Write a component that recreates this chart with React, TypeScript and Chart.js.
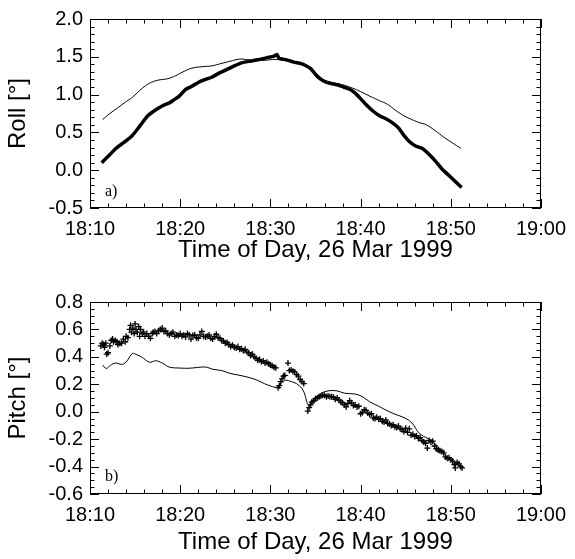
import { useEffect, useRef } from "react";
import { Chart, registerables } from "chart.js";

Chart.register(...registerables);

// ---------- data (time in minutes after 18:00) ----------
const xTickLabels = ["18:10", "18:20", "18:30", "18:40", "18:50", "19:00"];
const xTitle = "Time of Day, 26 Mar 1999";

// Panel a) Roll
const rollTimeMeas = [11.3, 11.9, 12.9, 13.8, 14.7, 15.5, 16.4, 17.3, 18.0, 18.8, 19.3, 19.9, 20.6, 21.3, 22.0, 22.8, 23.5, 24.4, 25.3, 26.0, 26.8, 27.6, 28.6, 29.7, 30.4, 30.75, 30.95, 31.8, 32.6, 33.4, 33.9, 34.5, 35.2, 35.9, 36.6, 37.4, 38.1, 38.8, 39.4, 39.9, 40.6, 41.4, 42.1, 42.8, 43.5, 44.2, 44.8, 45.4, 46.1, 46.8, 47.5, 48.3, 49.0, 49.8, 50.5, 51.2];
const rollMeas = [0.10, 0.17, 0.29, 0.37, 0.46, 0.58, 0.72, 0.80, 0.85, 0.89, 0.93, 0.98, 1.07, 1.11, 1.16, 1.20, 1.23, 1.29, 1.34, 1.38, 1.42, 1.44, 1.46, 1.49, 1.51, 1.53, 1.48, 1.46, 1.43, 1.41, 1.385, 1.34, 1.24, 1.18, 1.15, 1.13, 1.10, 1.07, 1.02, 0.96, 0.87, 0.78, 0.72, 0.68, 0.63, 0.56, 0.46, 0.38, 0.32, 0.29, 0.22, 0.12, 0.02, -0.07, -0.15, -0.23];
const rollTimeModel = [11.4, 12.2, 12.9, 13.8, 14.7, 15.8, 16.6, 17.5, 18.6, 19.5, 20.3, 21.3, 22.5, 23.5, 24.5, 25.5, 26.6, 27.5, 28.3, 29.5, 30.5, 31.5, 32.5, 33.5, 34.3, 35.2, 36.0, 37.0, 38.0, 38.8, 40.0, 41.0, 42.1, 43.0, 43.9, 44.8, 45.5, 46.5, 47.3, 48.3, 49.2, 50.2, 51.1];
const rollModel = [0.67, 0.75, 0.81, 0.89, 0.965, 1.085, 1.15, 1.19, 1.21, 1.25, 1.30, 1.35, 1.37, 1.38, 1.41, 1.44, 1.47, 1.46, 1.45, 1.455, 1.465, 1.45, 1.43, 1.41, 1.37, 1.27, 1.19, 1.155, 1.13, 1.10, 1.04, 0.98, 0.92, 0.87, 0.79, 0.72, 0.68, 0.63, 0.60, 0.52, 0.44, 0.36, 0.29];

// Panel b) Pitch
const pitchTimeModel = [11.4, 11.8, 12.3, 12.8, 13.6, 14.1, 14.7, 15.2, 15.7, 16.6, 17.3, 18.0, 18.8, 20.0, 21.0, 22.8, 23.6, 24.6, 25.5, 26.4, 27.3, 28.3, 29.7, 30.8, 31.3, 31.7, 32.3, 32.9, 33.5, 33.8, 34.1, 34.4, 35.0, 35.6, 36.5, 37.4, 38.2, 39.4, 40.2, 41.0, 42.0, 42.8, 43.7, 44.6, 45.3, 45.8, 46.4, 47.0, 47.6, 48.3, 48.9, 49.4, 50.0, 50.5, 51.0];
const pitchModel = [0.34, 0.315, 0.34, 0.355, 0.345, 0.37, 0.425, 0.415, 0.40, 0.36, 0.372, 0.355, 0.325, 0.318, 0.317, 0.326, 0.31, 0.30, 0.28, 0.268, 0.255, 0.236, 0.195, 0.178, 0.215, 0.23, 0.22, 0.205, 0.17, 0.13, 0.06, 0.045, 0.10, 0.135, 0.153, 0.152, 0.135, 0.129, 0.11, 0.073, 0.04, 0.012, -0.015, -0.037, -0.06, -0.09, -0.15, -0.18, -0.20, -0.235, -0.28, -0.316, -0.35, -0.377, -0.396];
const pitchTimeMeas = [
  11.2, 11.35, 11.5, 11.6, 11.75, 11.85, 12.0, 12.2, 12.35, 12.5, 12.6, 12.8, 13.0, 13.1, 13.3, 13.5, 13.7, 13.9, 14.0, 14.2,
  14.4, 14.5, 14.6, 14.75, 14.9, 15.0, 15.1, 15.25, 15.4, 15.5, 15.6, 15.8, 15.95, 16.1,
  16.3, 16.5, 16.7, 16.9, 17.0, 17.2, 17.4, 17.6, 17.8, 18.0, 18.2, 18.4, 18.6, 18.8, 19.0, 19.2, 19.4, 19.6, 19.8, 20.0, 20.2, 20.4, 20.6, 20.8, 21.0, 21.2, 21.4, 21.6, 21.8, 22.0, 22.2, 22.4, 22.6, 22.8, 23.0, 23.2, 23.4, 23.6, 23.8, 24.0, 24.2, 24.4,
  24.6, 24.8, 25.0, 25.2, 25.4, 25.6, 25.8, 26.0, 26.2, 26.4, 26.6, 26.8, 27.0, 27.2, 27.4, 27.6, 27.8, 28.0, 28.2, 28.4, 28.6, 28.8, 29.0, 29.2, 29.4, 29.6, 29.8, 30.0, 30.2, 30.4, 30.6,
  30.85, 31.0, 31.15, 31.3, 31.45, 31.6, 31.95, 32.1, 32.3, 32.5, 32.7, 32.9, 33.1, 33.3, 33.5, 33.7,
  34.15, 34.3, 34.45, 34.6, 34.8, 35.0, 35.2, 35.4, 35.6, 35.8, 36.0, 36.2, 36.4, 36.6, 36.8, 37.0, 37.2, 37.4, 37.6, 37.8,
  38.0, 38.2, 38.4, 38.6, 38.8, 39.0, 39.2, 39.4, 39.6, 39.8, 40.0, 40.2, 40.4, 40.6, 40.8, 41.0, 41.2, 41.4, 41.6, 41.8, 42.0, 42.2, 42.4, 42.6, 42.8, 43.0, 43.2, 43.4, 43.6, 43.8, 44.0, 44.2, 44.4, 44.6, 44.8, 45.0, 45.2, 45.4, 45.6, 45.8, 46.0, 46.2, 46.4, 46.6, 46.8, 47.0, 47.2, 47.4, 47.6, 47.8, 48.0, 48.2, 48.4, 48.6, 48.8, 49.0, 49.2, 49.4, 49.6, 49.8, 50.0, 50.2, 50.4, 50.5, 50.7, 50.9, 51.1, 51.25,
];
const pitchMeas = [
  0.48, 0.50, 0.49, 0.47, 0.50, 0.42, 0.43, 0.48, 0.52, 0.53, 0.51, 0.52, 0.51, 0.49, 0.50, 0.50, 0.53, 0.51, 0.55, 0.54,
  0.60, 0.63, 0.58, 0.61, 0.57, 0.64, 0.60, 0.58, 0.62, 0.55, 0.60, 0.57, 0.58, 0.55,
  0.57, 0.55, 0.535, 0.57, 0.58, 0.585, 0.57, 0.59, 0.60, 0.61, 0.585, 0.59, 0.57, 0.56, 0.57, 0.58, 0.55, 0.56, 0.555, 0.57, 0.55, 0.56, 0.545, 0.57, 0.56, 0.53, 0.555, 0.56, 0.54, 0.535, 0.56, 0.585, 0.55, 0.545, 0.55, 0.56, 0.535, 0.53, 0.55, 0.565, 0.54, 0.535,
  0.52, 0.515, 0.50, 0.505, 0.49, 0.475, 0.485, 0.47, 0.465, 0.475, 0.455, 0.46, 0.445, 0.455, 0.435, 0.43, 0.41, 0.42, 0.40, 0.39, 0.375, 0.38, 0.365, 0.37, 0.355, 0.36, 0.35, 0.34, 0.335, 0.325, 0.32,
  0.175, 0.19, 0.22, 0.24, 0.26, 0.265, 0.355, 0.30, 0.305, 0.295, 0.29, 0.27, 0.26, 0.235, 0.22, 0.205,
  0.005, 0.03, 0.05, 0.07, 0.08, 0.095, 0.10, 0.11, 0.115, 0.12, 0.12, 0.11, 0.115, 0.11, 0.11, 0.105, 0.09, 0.10, 0.085, 0.07,
  0.065, 0.05, 0.035, 0.06, 0.08, 0.065, 0.045, 0.05, 0.035, 0.04, -0.015, -0.005, 0.015, 0.01, -0.01, -0.02, -0.015, -0.045, -0.05, -0.04, -0.055, -0.05, -0.07, -0.075, -0.06, -0.085, -0.09, -0.10, -0.095, -0.11, -0.115, -0.105, -0.125, -0.13, -0.145, -0.12, -0.15, -0.125, -0.17, -0.165, -0.18, -0.175, -0.195, -0.19, -0.21, -0.22, -0.23, -0.265, -0.21, -0.22, -0.215, -0.25, -0.27, -0.28, -0.285, -0.29, -0.30, -0.33, -0.34, -0.335, -0.35, -0.36, -0.385, -0.41, -0.37, -0.38, -0.40, -0.41,
];

const toXY = (xs: number[], ys: number[]) => xs.map((x, i) => ({ x, y: ys[i] }));

const FONT = "'Liberation Sans', Arial, Helvetica, sans-serif";

// Inward ticks on all four sides + frame + panel label
const frameTicks = {
  id: "frameTicks",
  afterDatasetsDraw(chart: any, _args: any, opts: any) {
    const { ctx, chartArea: a, scales } = chart;
    const xs = scales.x;
    const ys = scales.y;
    ctx.save();
    ctx.strokeStyle = "#000";
    ctx.lineWidth = 1;
    ctx.strokeRect(Math.round(a.left) + 0.5, Math.round(a.top) + 0.5, Math.round(a.right - a.left) - 1, Math.round(a.bottom - a.top) - 1);
    const majorLen = 9;
    const minorLen = 4.5;
    ctx.beginPath();
    const nx = Math.round((xs.max - xs.min) / opts.xMinor);
    const xr = Math.round(opts.xMajor / opts.xMinor);
    for (let i = 0; i <= nx; i++) {
      const v = xs.min + i * opts.xMinor;
      const px = Math.round(xs.getPixelForValue(v)) + 0.5;
      const len = i % xr === 0 ? majorLen : minorLen;
      ctx.moveTo(px, a.bottom);
      ctx.lineTo(px, a.bottom - len);
      ctx.moveTo(px, a.top);
      ctx.lineTo(px, a.top + len);
    }
    const ny = Math.round((ys.max - ys.min) / opts.yMinor);
    const yr = Math.round(opts.yMajor / opts.yMinor);
    for (let i = 0; i <= ny; i++) {
      const v = ys.min + i * opts.yMinor;
      const py = Math.round(ys.getPixelForValue(v)) + 0.5;
      const len = i % yr === 0 ? majorLen : minorLen;
      ctx.moveTo(a.left, py);
      ctx.lineTo(a.left + len, py);
      ctx.moveTo(a.right, py);
      ctx.lineTo(a.right - len, py);
    }
    ctx.stroke();
    ctx.fillStyle = "#000";
    ctx.font = "16px 'Liberation Serif', 'Times New Roman', serif";
    ctx.textAlign = "left";
    ctx.textBaseline = "alphabetic";
    ctx.fillText(opts.label, a.left + 15, a.bottom - opts.labelUp);
    ctx.restore();
  },
};

function makeConfig(p: {
  datasets: any[];
  yMin: number;
  yMax: number;
  yStep: number;
  yMinor: number;
  yTitle: string;
  label: string;
  labelUp: number;
  padTop: number;
  xAxisH: number;
  xTitlePad: number;
}) {
  return {
    type: "scatter",
    data: { datasets: p.datasets },
    options: {
      animation: false,
      responsive: false,
      maintainAspectRatio: false,
      layout: { padding: { left: 0, right: 28, top: p.padTop, bottom: 0 } },
      plugins: {
        legend: { display: false },
        tooltip: { enabled: false },
        frameTicks: { xMinor: 2, xMajor: 10, yMinor: p.yMinor, yMajor: p.yStep, label: p.label, labelUp: p.labelUp },
      },
      scales: {
        x: {
          type: "linear",
          min: 10,
          max: 60,
          afterFit: (s: any) => { s.height = p.xAxisH; },
          grid: { display: false, drawTicks: false },
          border: { display: false },
          ticks: {
            stepSize: 10,
            autoSkip: false,
            maxRotation: 0,
            padding: 9,
            color: "#000",
            font: { family: FONT, size: 20 },
            callback: (v: any) => xTickLabels[Math.round((Number(v) - 10) / 10)],
          },
          title: {
            display: true,
            text: xTitle,
            color: "#000",
            font: { family: FONT, size: 24 },
            padding: { top: 0, bottom: p.xTitlePad },
          },
        },
        y: {
          type: "linear",
          min: p.yMin,
          max: p.yMax,
          afterFit: (s: any) => { s.width = 90; },
          grid: { display: false, drawTicks: false },
          border: { display: false },
          ticks: {
            stepSize: p.yStep,
            padding: 7,
            color: "#000",
            font: { family: FONT, size: 20 },
            callback: (v: any) => Number(v).toFixed(1),
          },
          title: {
            display: true,
            text: p.yTitle,
            color: "#000",
            font: { family: FONT, size: 24 },
            padding: { top: 4, bottom: 0 },
          },
        },
      },
    },
    plugins: [frameTicks],
  } as any;
}

export default function App() {
  const topRef = useRef<HTMLCanvasElement>(null);
  const botRef = useRef<HTMLCanvasElement>(null);

  useEffect(() => {
    const top = new Chart(
      topRef.current!,
      makeConfig({
        datasets: [
          {
            data: toXY(rollTimeModel, rollModel),
            showLine: true,
            borderColor: "#000",
            borderWidth: 1,
            pointRadius: 0,
            tension: 0.4,
          },
          {
            data: toXY(rollTimeMeas, rollMeas),
            showLine: true,
            borderColor: "#000",
            borderWidth: 3.5,
            pointRadius: 0,
            tension: 0.2,
          },
        ],
        yMin: -0.5,
        yMax: 2.0,
        yStep: 0.5,
        yMinor: 0.1,
        yTitle: "Roll [°]",
        label: "a)",
        labelUp: 12,
        padTop: 14,
        xAxisH: 72,
        xTitlePad: 15.6,
      })
    );
    const bot = new Chart(
      botRef.current!,
      makeConfig({
        datasets: [
          {
            data: toXY(pitchTimeModel, pitchModel),
            showLine: true,
            borderColor: "#000",
            borderWidth: 1,
            pointRadius: 0,
            tension: 0.3,
          },
          {
            data: toXY(pitchTimeMeas, pitchMeas),
            showLine: false,
            pointStyle: "cross",
            pointRadius: 3,
            pointBorderWidth: 1.3,
            pointBorderColor: "#000",
            pointBackgroundColor: "#000",
          },
        ],
        yMin: -0.6,
        yMax: 0.8,
        yStep: 0.2,
        yMinor: 0.05,
        yTitle: "Pitch [°]",
        label: "b)",
        labelUp: 13,
        padTop: 22,
        xAxisH: 65,
        xTitlePad: 2.5,
      })
    );
    return () => {
      top.destroy();
      bot.destroy();
    };
  }, []);

  return (
    <div style={{ position: "fixed", left: 0, top: 0, width: 575, height: 559, background: "#fff" }}>
      <canvas ref={topRef} width={575} height={280} style={{ display: "block", width: 575, height: 280 }} />
      <canvas ref={botRef} width={575} height={279} style={{ display: "block", width: 575, height: 279 }} />
    </div>
  );
}
